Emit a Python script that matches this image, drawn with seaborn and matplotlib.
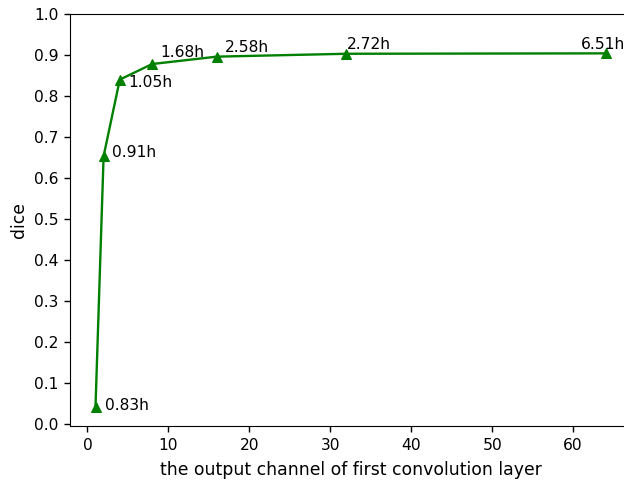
import numpy as np
import pandas as pd
import seaborn as sns
import matplotlib
matplotlib.use("Agg")
import matplotlib.pyplot as plt

# output channels of the first conv layer vs dice, with training time
canais = [1, 2, 4, 8, 16, 32, 64]
dice = [0.041, 0.653, 0.840, 0.878, 0.896, 0.903, 0.904]
tempos = ["0.83h", "0.91h", "1.05h", "1.68h", "2.58h", "2.72h", "6.51h"]

df = pd.DataFrame({"canal": canais, "dice": dice})

fig = plt.figure(figsize=(6.24, 4.84), dpi=100)
ax = fig.add_axes([70 / 624, 1 - 426 / 484, 561 / 624, 412 / 484])

sns.lineplot(data=df, x="canal", y="dice", ax=ax, color="green",
             marker="^", markersize=7.5, markeredgecolor="green", linewidth=1.7)

# text offsets (points) for each label
desloc = [(7, 1, "left", "center"), (6, 3, "left", "center"),
          (6, -2, "left", "center"), (6, 3, "left", "bottom"),
          (6, 1, "left", "bottom"), (0, 1, "left", "bottom"),
          (-2, 1, "center", "bottom")]
for x, y, t, (dx, dy, ha, va) in zip(canais, dice, tempos, desloc):
    ax.annotate(t, (x, y), xytext=(dx, dy), textcoords="offset points",
                ha=ha, va=va, fontsize=11.2)

ax.set_xlim(-2.15, 67.15)
ax.set_ylim(-0.005, 1.0)
ax.set_yticks(np.arange(0, 1.01, 0.1))
ax.tick_params(labelsize=11.2, length=4, width=1, pad=4.5)
ax.set_xlabel("the output channel of first convolution layer", fontsize=12.4, labelpad=6)
ax.set_ylabel("dice", fontsize=12.4)

fig.savefig("out.png", dpi=100)
